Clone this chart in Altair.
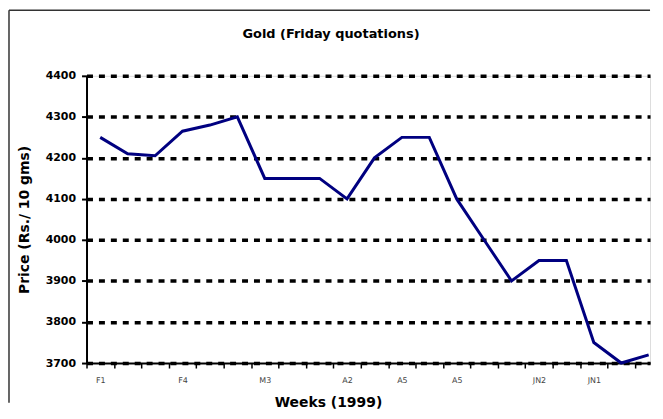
import altair as alt
import pandas as pd

# ---- data ----
week_labels = ["F1", "", "", "F4", "", "", "M3", "", "", "A2", "", "A5",
               "", "A5", "", "", "JN2", "", "JN1", "", ""]
prices = [4250, 4210, 4205, 4265, 4280, 4300, 4150, 4150, 4150, 4100, 4200,
          4250, 4250, 4100, 4000, 3900, 3950, 3950, 3750, 3700, 3720]
y_ticks = [3700, 3800, 3900, 4000, 4100, 4200, 4300, 4400]
chart_title = "Gold (Friday quotations)"

df = pd.DataFrame({
    "week": [i + 0.5 for i in range(len(prices))],
    "price": prices,
    "label": week_labels,
})

W, H = 567, 289
FONT = "DejaVu Sans"

label_js = "[" + ",".join(f"'{l}'" for l in week_labels) + "]"
x_vals = [i / 2 for i in range(0, 2 * len(prices))]

x_axis = alt.Axis(
    values=x_vals,
    labelExpr=f"datum.value % 1 == 0 ? '' : {label_js}[floor(datum.value)]",
    tickOpacity={"condition": {"test": "datum.value % 1 == 0", "value": 1}, "value": 0},
    labelOverlap=False,
    labelFlush=False,
    labelBound=False,
    grid=False,
    domainColor="black",
    domainWidth=2,
    tickColor="black",
    tickWidth=1.5,
    tickSize=5,
    labelFont=FONT,
    labelFontSize=8,
    labelColor="#444",
    labelPadding=9,
    title="Weeks (1999)",
    titleFont=FONT,
    titleFontSize=14,
    titleFontWeight="bold",
    titleColor="black",
    titlePadding=11,
    titleX=243,
)

y_axis = alt.Axis(
    values=y_ticks,
    format="d",
    grid=True,
    gridColor="black",
    gridDash=[6, 6],
    gridWidth=3.5,
    domainColor="black",
    domainWidth=2,
    tickColor="black",
    tickWidth=2,
    tickSize=5,
    labelFont=FONT,
    labelFontSize=11,
    labelFontWeight="bold",
    labelColor="black",
    labelPadding=6,
    title="Price (Rs./ 10 gms)",
    titleFont=FONT,
    titleFontSize=14,
    titleFontWeight="bold",
    titleColor="black",
    titlePadding=14,
)

line = alt.Chart(df).mark_line(color="#000080", strokeWidth=3).encode(
    x=alt.X("week:Q", scale=alt.Scale(domain=[0, 20.55], nice=False, zero=False), axis=x_axis),
    y=alt.Y("price:Q", scale=alt.Scale(domain=[3700, 4400], nice=False, zero=False), axis=y_axis),
)

frame_df = pd.DataFrame({"k": [0]})
left_rule = alt.Chart(frame_df).mark_rule(color="#333", strokeWidth=1.5).encode(
    x=alt.value(-78), y=alt.value(-66), y2=alt.value(H + 40)
)
top_rule = alt.Chart(frame_df).mark_rule(color="#333", strokeWidth=1.5).encode(
    x=alt.value(-78), x2=alt.value(W), y=alt.value(-66)
)
title_text = alt.Chart(pd.DataFrame({"t": [chart_title]})).mark_text(
    font=FONT, fontSize=13, fontWeight="bold", color="black",
    align="center", baseline="middle",
).encode(x=alt.value(246), y=alt.value(-42), text="t:N")

chart = alt.layer(line, left_rule, top_rule, title_text).properties(
    width=W,
    height=H,
    padding={"left": 0, "top": 0, "right": 0, "bottom": 0},
).configure_view(stroke=None).configure(background="white")

chart.save("out.html", embed_options={"renderer": "svg", "actions": False})
